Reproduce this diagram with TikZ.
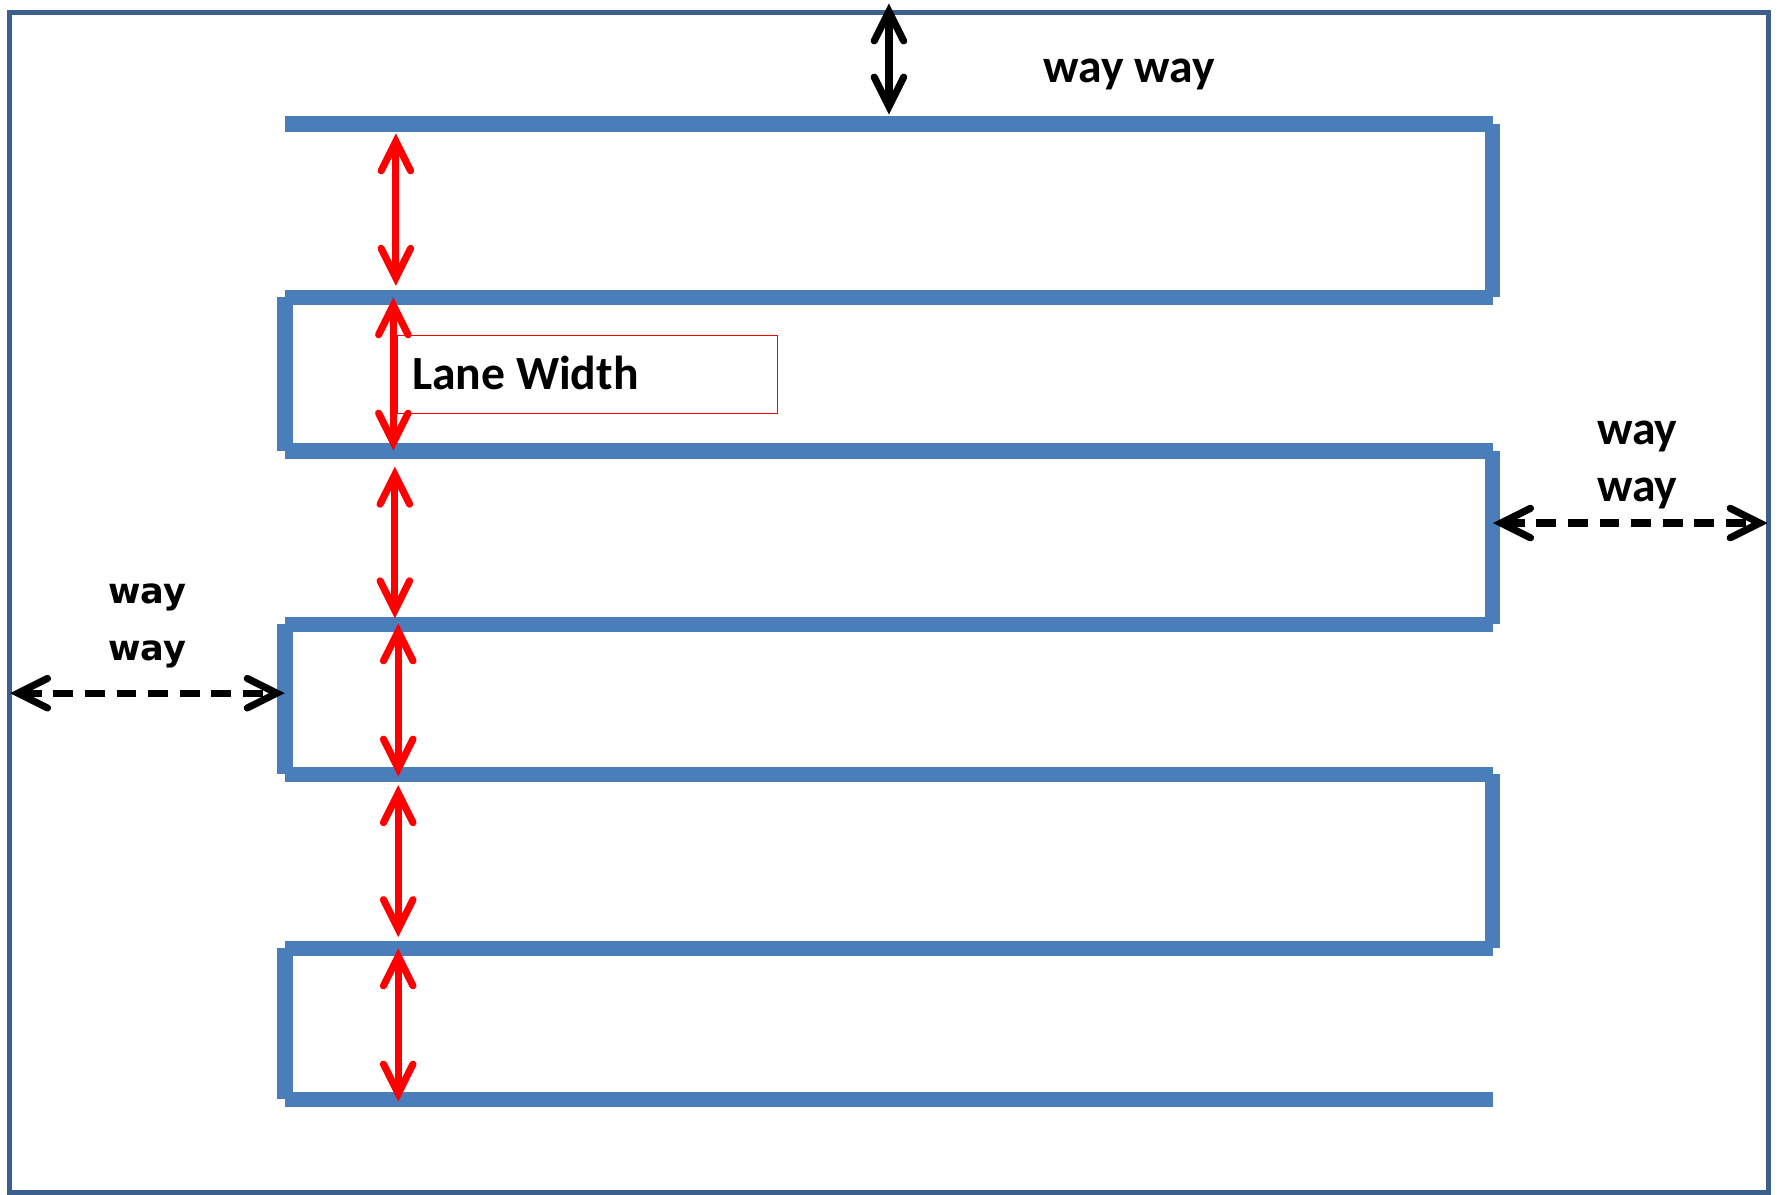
\documentclass[tikz,border=0pt]{standalone}
\usepackage{fontspec}
\setmainfont{Carlito}
\newfontfamily\verd{DejaVu Sans}
\usetikzlibrary{arrows.meta}
\definecolor{frameblue}{HTML}{3C5F8C}
\definecolor{laneblue}{HTML}{4A7EBB}
\begin{document}
\begin{tikzpicture}[x=1pt,y=-1pt,
  lane/.style={draw=laneblue,line width=13.7pt,line cap=butt},
  barb/.tip={Straight Barb[length=26pt,width=26pt,line cap=round,line join=miter]},
  redarr/.style={draw=red,line width=6.3pt,barb-barb},
  blackarr/.style={draw=black,line width=6.3pt,barb-barb},
  dasharr/.style={draw=black,line width=6.3pt,barb-barb,dash pattern=on 17.6pt off 10.3pt},
  lbl/.style={inner sep=0pt,font=\fontsize{42}{50}\selectfont\bfseries},
  lblv/.style={inner sep=0pt,font=\fontsize{31}{38}\selectfont\verd\bfseries}]
\useasboundingbox (0,0) rectangle (1568,1053);
% outer frame
\draw[frameblue,line width=4pt] (8.4,11) rectangle (1558.7,1051);
% lane snake
\foreach \y in {109.3,262.2,397.5,550.4,682.6,835.8,969}{
  \draw[lane] (251.2,\y) -- (1315.5,\y);
}
\draw[lane] (1315.5,109.3) -- (1315.5,262.2);
\draw[lane] (1315.5,397.5) -- (1315.5,550.4);
\draw[lane] (1315.5,682.6) -- (1315.5,835.8);
\draw[lane] (251.2,262.2) -- (251.2,397.5);
\draw[lane] (251.2,550.4) -- (251.2,682.6);
\draw[lane] (251.2,835.8) -- (251.2,969);
% label box
\node[draw=red,line width=1.1pt,minimum width=335.4pt,minimum height=68.7pt,anchor=north west,inner sep=0pt] (lw) at (349.6,295.3) {};
\node[lbl,anchor=base west] (lwt) at (363,343) {Lane Width};
% red arrows
\coordinate (a1t) at (348.9,117.5); \coordinate (a1b) at (348.9,252);
\coordinate (a2t) at (346.7,262);   \coordinate (a2b) at (346.7,397.2);
\coordinate (a3t) at (348,411.3);   \coordinate (a3b) at (348,545);
\coordinate (a4t) at (351,549.4);   \coordinate (a4b) at (351,684.5);
\coordinate (a5t) at (351,692);     \coordinate (a5b) at (351,826);
\coordinate (a6t) at (351,835.8);   \coordinate (a6b) at (351,971);
\draw[redarr] (a1t) -- (a1b);
\draw[redarr] (a2t) -- (a2b);
\draw[redarr] (a3t) -- (a3b);
\draw[redarr] (a4t) -- (a4b);
\draw[redarr] (a5t) -- (a5b);
\draw[redarr] (a6t) -- (a6b);
% black arrows
\coordinate (tt) at (783.5,3); \coordinate (tb) at (783.5,101);
\draw[blackarr] (tt) -- (tb);
\coordinate (rl) at (1315.9,461); \coordinate (rr) at (1558,461);
\draw[dasharr] (rl) -- (rr);
\coordinate (ll) at (8.8,611); \coordinate (lr) at (251,611);
\draw[dasharr] (ll) -- (lr);
% texts
\node[lbl,anchor=base] (w1) at (995,73) {way way};
\node[lbl,anchor=base] (w2) at (1443,392) {way};
\node[lbl,anchor=base] (w3) at (1443,442) {way};
\node[lblv,anchor=base] (w4) at (130,532) {way};
\node[lblv,anchor=base] (w5) at (130,582) {way};
\end{tikzpicture}
\end{document}
